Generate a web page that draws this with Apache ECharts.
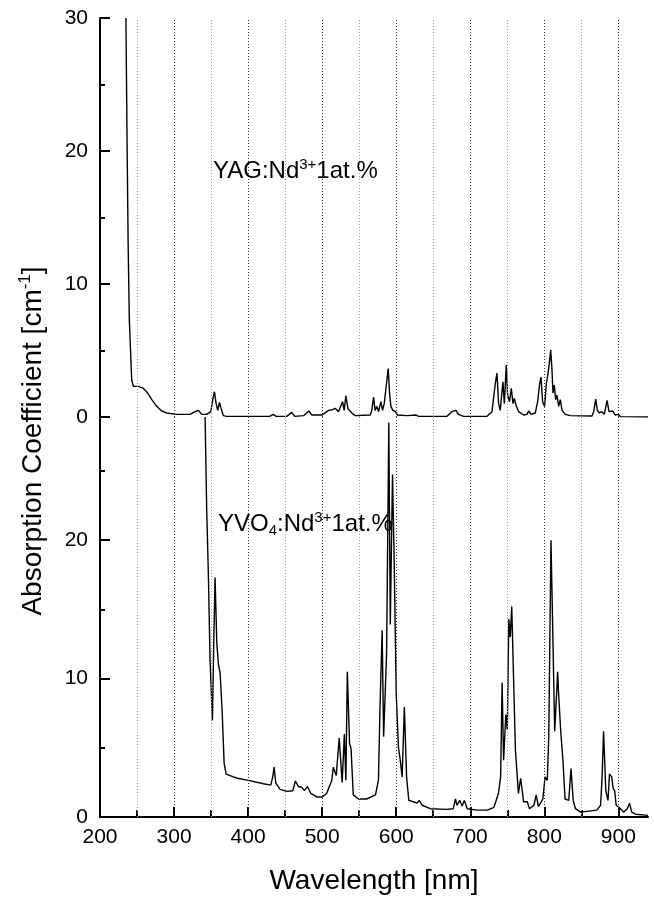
<!DOCTYPE html>
<html>
<head>
<meta charset="utf-8">
<script src="https://cdn.jsdelivr.net/npm/echarts@6/dist/echarts.min.js"></script>
<style>html,body{margin:0;padding:0;background:#fff;}#chart{width:654px;height:900px;}</style>
</head>
<body>
<div id="chart"></div>
<script>
// ---- data ----
const yagWavelength = [235, 236.5, 238, 239.6, 241.4, 242.8, 245, 251.8, 258.6, 263, 270, 276.6, 283.3, 290, 303.6, 321.6, 328.4, 333, 337.4, 344, 349.6, 352.3, 354.5, 356.8, 359, 361.3, 363.5, 366.7, 371, 429, 434, 438, 452, 459, 463, 475, 482, 486, 500, 508.6, 511, 514, 517.6, 522, 524, 527.5, 529.7, 532, 534.7, 537, 540, 544.6, 565, 567, 569.4, 571.5, 574, 576.2, 579.3, 581.5, 583.8, 586.5, 589.2, 591, 592.8, 595.5, 598.7, 601.8, 614.4, 627, 630, 668.5, 675.2, 677.5, 680.7, 684, 691, 722.6, 729.3, 731.5, 733.8, 736, 738.3, 740.5, 744.1, 746, 748.6, 750.4, 753, 755.4, 757.7, 759.5, 761.7, 765.3, 772, 776.5, 778.8, 782, 787.8, 791, 793.7, 795.5, 797.7, 800.4, 802.7, 805, 806.8, 808.6, 810.4, 811.7, 813.5, 815.3, 817.1, 819.4, 821.6, 823.9, 828.4, 835, 864.4, 866.7, 869.4, 871.6, 874.3, 877.5, 881, 884.7, 887.4, 890, 892.4, 895.5, 899.6, 902.7, 940];
const yagAbsorption = [30, 21, 13, 7.3, 4.8, 2.8, 2.3, 2.3, 2.15, 1.9, 1.3, 0.8, 0.45, 0.3, 0.2, 0.2, 0.4, 0.5, 0.2, 0.2, 0.4, 1.3, 1.9, 1.0, 0.5, 1.1, 0.65, 0.1, 0.05, 0.05, 0.2, 0.05, 0.05, 0.35, 0.05, 0.1, 0.45, 0.15, 0.15, 0.5, 0.65, 0.55, 0.65, 0.4, 0.3, 1.15, 0.5, 1.6, 0.65, 0.7, 0.3, 0.1, 0.15, 0.5, 1.5, 0.5, 0.8, 0.4, 1.15, 0.5, 1.0, 1.15, 3.65, 1.8, 0.8, 0.5, 0.4, 0.15, 0.1, 0.15, 0.05, 0.05, 0.4, 0.3, 0.5, 0.2, 0.05, 0.05, 0.4, 0.4, 2.5, 3.3, 1.0, 0.5, 2.65, 1.0, 3.9, 1.65, 1.15, 2.15, 1.0, 1.4, 0.9, 0.4, 0.15, 0.2, 0.45, 0.2, 0.3, 1.15, 2.5, 3.0, 1.15, 0.8, 2.5, 3.3, 4.05, 5.05, 3.5, 1.8, 2.4, 1.3, 1.65, 0.8, 1.3, 0.5, 0.2, 0.1, 0.08, 0.4, 1.35, 0.5, 0.3, 0.4, 0.2, 1.25, 0.4, 0.3, 0.45, 0.15, 0.2, 0.03, 0.0];

const yvoWavelength = [341.9, 344.1, 346.4, 348.6, 351.8, 353.6, 355.4, 357.7, 360, 362.2, 364.9, 367.6, 370.3, 380.2, 385.6, 400.5, 420.7, 430.6, 433.3, 435.1, 437.4, 443.2, 452.2, 460.3, 463.9, 468, 472.5, 476, 480, 484.7, 492.7, 500, 506, 513, 515, 519, 523, 527, 530, 532, 534, 537, 539, 542, 549, 560, 572, 576, 578, 581, 583, 587, 590, 592, 595, 597, 600, 603, 605, 608, 611, 614, 617, 623, 628, 631, 635, 646, 668, 677, 680, 682, 686, 689, 692, 696, 709, 723, 732, 738, 741, 743, 745, 748, 750, 752, 754, 756, 759, 761, 765, 768, 772, 777, 780, 786, 789, 792, 798, 801, 804, 806, 809, 811, 814, 815, 818, 819, 822, 825, 828, 833, 836, 839, 842, 849, 871, 876, 878, 880, 883, 886, 888, 891, 893, 895, 897, 903, 907, 912, 915, 918, 923, 940];
const yvoAbsorption = [28.9, 22.2, 17.4, 11.35, 7.0, 12.6, 17.3, 12.6, 11.0, 10.4, 7.7, 3.9, 3.1, 2.9, 2.8, 2.65, 2.4, 2.3, 2.9, 3.6, 2.45, 2.0, 1.85, 1.9, 2.6, 2.2, 2.15, 1.9, 2.2, 1.7, 1.45, 1.45, 1.7, 2.65, 3.6, 3.0, 5.7, 2.5, 6.0, 2.65, 10.5, 5.3, 4.95, 1.6, 1.3, 1.3, 1.6, 2.65, 7.7, 13.5, 5.8, 11.8, 28.5, 13.9, 24.75, 19.3, 8.9, 5.05, 4.3, 2.9, 7.95, 2.9, 1.2, 1.1, 1.0, 1.2, 0.85, 0.6, 0.55, 0.6, 1.3, 0.85, 1.2, 0.8, 1.2, 0.6, 0.5, 0.5, 0.7, 1.7, 2.9, 9.7, 4.1, 7.4, 6.3, 14.3, 13.0, 15.2, 8.9, 4.8, 1.7, 2.8, 1.1, 1.1, 0.6, 0.85, 1.6, 0.75, 1.3, 2.9, 2.65, 5.8, 20.0, 14.5, 6.2, 7.2, 10.5, 9.2, 6.3, 4.2, 1.3, 1.2, 3.5, 1.2, 0.6, 0.35, 0.5, 0.85, 2.9, 6.2, 1.9, 1.2, 3.1, 2.9, 2.05, 1.9, 0.85, 0.6, 0.35, 0.6, 1.0, 0.35, 0.2, 0.12];

const xTickValues = [200, 300, 400, 500, 600, 700, 800, 900];
const xMinorTickValues = [250, 350, 450, 550, 650, 750, 850];
const yTopTickValues = [0, 10, 20, 30];
const yBottomTickValues = [0, 10, 20];
const yBottomMinorTickValues = [5, 15, 25];
const majorGridLines = [300, 400, 500, 600, 700, 800, 900];
const minorGridLines = [250, 350, 450, 550, 650, 750, 850];

// ---- chart ----
const FONT = '"Liberation Sans", Arial, Helvetica, sans-serif';
const zip = (xs, ys) => xs.map((x, i) => [x, ys[i]]);
const gridMarkLine = {
  silent: true, symbol: ['none', 'none'], animation: false,
  label: { show: false },
  data: majorGridLines.map(v => ({ xAxis: v, lineStyle: { color: '#333', width: 1, type: [1, 2] } }))
    .concat(minorGridLines.map(v => ({ xAxis: v, lineStyle: { color: '#999', width: 1, type: [1, 2] } })))
};
const axisLineStyle = { show: true, lineStyle: { color: '#000', width: 2 } };

const chart = echarts.init(document.getElementById('chart'), null, { renderer: 'canvas' });
chart.setOption({
  backgroundColor: '#fff',
  animation: false,
  grid: [
    { left: 100, width: 548, top: 18, height: 399 },
    { left: 100, width: 548, top: 417, height: 400 }
  ],
  xAxis: [
    { type: 'value', gridIndex: 0, min: 200, max: 940, show: false },
    { type: 'value', gridIndex: 1, min: 200, max: 940, interval: 100,
      axisLine: axisLineStyle,
      axisTick: { show: true, inside: true, length: 10, lineStyle: { color: '#000', width: 2 }, customValues: xTickValues },
      axisLabel: { show: true, color: '#000', fontSize: 21, fontFamily: FONT, margin: 10, customValues: xTickValues },
      splitLine: { show: false }
    },
    { type: 'value', gridIndex: 1, min: 200, max: 940, position: 'bottom',
      axisLine: { show: false },
      axisTick: { show: true, inside: true, length: 7, lineStyle: { color: '#000', width: 2 }, customValues: xMinorTickValues },
      axisLabel: { show: false },
      splitLine: { show: false }
    }
  ],
  yAxis: [
    { type: 'value', gridIndex: 0, min: 0, max: 30, interval: 10,
      axisLine: axisLineStyle,
      axisTick: { show: true, inside: true, length: 10, lineStyle: { color: '#000', width: 2 }, customValues: yTopTickValues },
      minorTick: { show: true, splitNumber: 2, length: 5, lineStyle: { color: '#000', width: 2 } },
      axisLabel: { show: true, color: '#000', fontSize: 21, fontFamily: FONT, margin: 12, customValues: yTopTickValues },
      splitLine: { show: false }
    },
    { type: 'value', gridIndex: 1, min: 0, max: 28.9, interval: 10,
      axisLine: axisLineStyle,
      axisTick: { show: true, inside: true, length: 10, lineStyle: { color: '#000', width: 2 }, customValues: yBottomTickValues },
      axisLabel: { show: true, color: '#000', fontSize: 21, fontFamily: FONT, margin: 12, customValues: yBottomTickValues },
      splitLine: { show: false }
    },
    { type: 'value', gridIndex: 1, min: 0, max: 28.9, position: 'left',
      axisLine: { show: false },
      axisTick: { show: true, inside: true, length: 5, lineStyle: { color: '#000', width: 2 }, customValues: yBottomMinorTickValues },
      axisLabel: { show: false },
      splitLine: { show: false }
    }
  ],
  series: [
    { name: 'YAG:Nd3+ 1at.%', type: 'line', xAxisIndex: 0, yAxisIndex: 0,
      data: zip(yagWavelength, yagAbsorption), symbol: 'none', showSymbol: false, clip: true,
      lineStyle: { color: '#000', width: 1.4 }, markLine: gridMarkLine, z: 3 },
    { name: 'YVO4:Nd3+ 1at.%', type: 'line', xAxisIndex: 1, yAxisIndex: 1,
      data: zip(yvoWavelength, yvoAbsorption), symbol: 'none', showSymbol: false, clip: true,
      lineStyle: { color: '#000', width: 1.4 }, markLine: gridMarkLine, z: 3 }
  ],
  graphic: [
    { type: 'text', x: 33, y: 441, rotation: Math.PI / 2, z: 10,
      style: { text: 'Absorption Coefficient [cm{sup|-1}]', fill: '#000', font: '28px ' + FONT,
        align: 'center', verticalAlign: 'middle', lineHeight: 32,
        rich: { sup: { fontSize: 17, fontFamily: FONT, verticalAlign: 'top', lineHeight: 18, fill: '#000' } } } },
    { type: 'text', x: 374, y: 881, z: 10,
      style: { text: 'Wavelength [nm]', fill: '#000', font: '28px ' + FONT, align: 'center', verticalAlign: 'middle' } },
    { type: 'text', x: 213, y: 171, z: 10,
      style: { text: 'YAG:Nd{sup|3+}1at.%', fill: '#000', font: '24px ' + FONT, align: 'left', verticalAlign: 'middle', lineHeight: 28,
        rich: { sup: { fontSize: 15, fontFamily: FONT, verticalAlign: 'top', lineHeight: 16, fill: '#000' } } } },
    { type: 'text', x: 218, y: 524, z: 10,
      style: { text: 'YVO{sub|4}:Nd{sup|3+}1at.%', fill: '#000', font: '24px ' + FONT, align: 'left', verticalAlign: 'middle', lineHeight: 28,
        rich: { sup: { fontSize: 15, fontFamily: FONT, verticalAlign: 'top', lineHeight: 16, fill: '#000' },
                sub: { fontSize: 15, fontFamily: FONT, verticalAlign: 'bottom', lineHeight: 16, fill: '#000' } } } }
  ]
});
</script>
</body>
</html>
